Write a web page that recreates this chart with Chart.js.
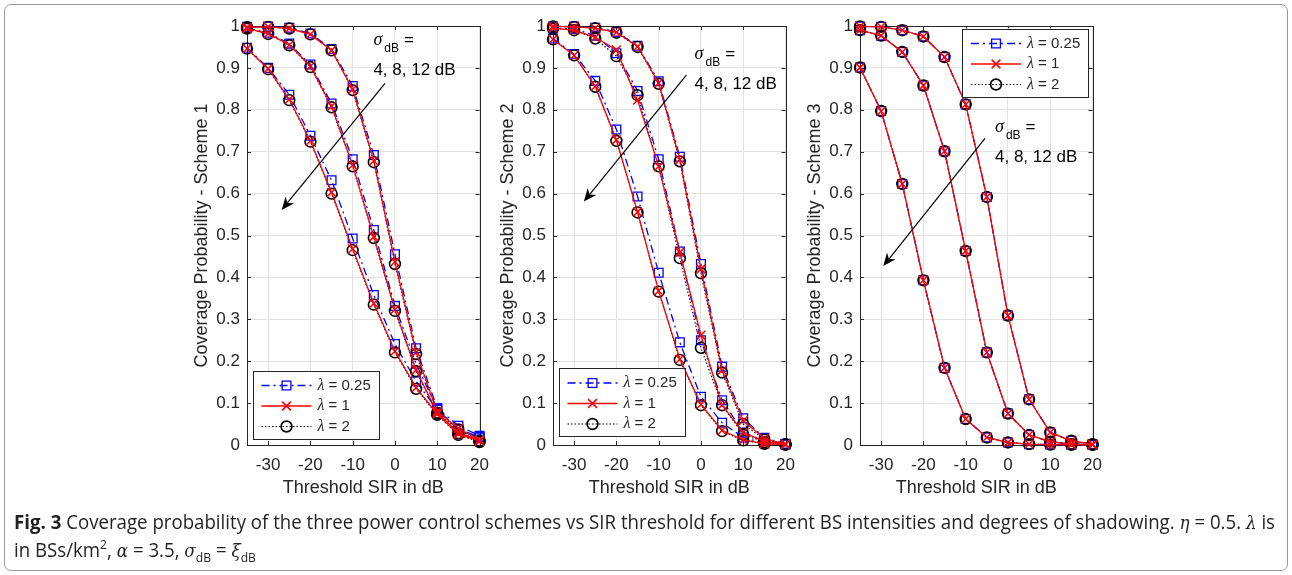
<!DOCTYPE html>
<html>
<head>
<meta charset="utf-8">
<script src="https://cdn.jsdelivr.net/npm/chart.js@4.4.1/dist/chart.umd.min.js"></script>
<style>
  html, body { margin: 0; padding: 0; background: #fff; }
  #fig { position: relative; width: 1292px; height: 575px; overflow: hidden; }
  #frame { position: absolute; left: 4px; top: 4px; width: 1282px; height: 565px;
           border: 1px solid #9a9a9a; border-radius: 7px; }
  canvas { position: absolute; top: 0; }
  #caption { position: absolute; left: 14px; top: 508px; font: 20px "Open Sans", sans-serif;
             line-height: 27px; color: #231f20; white-space: nowrap; transform-origin: 0 0; }
  #caption b { font-weight: 700; }
  #caption .m { font-family: "DejaVu Serif", serif; font-style: italic; font-size: 18px; }
  #caption sub, #caption sup { font-size: 13px; line-height: 0; }
</style>
</head>
<body>
<div id="fig">
  <div id="frame"></div>
  <canvas id="scheme1" width="323" height="510" style="left:177px"></canvas>
  <canvas id="scheme2" width="323" height="510" style="left:483px"></canvas>
  <canvas id="scheme3" width="323" height="510" style="left:790px"></canvas>
  <div id="caption"><span id="capLine"><b>Fig. 3</b> Coverage probability of the three power control schemes vs SIR threshold for different BS intensities and degrees of shadowing. <span class="m">η</span> = 0.5. <span class="m">λ</span> is</span><br>in BSs/km<sup>2</sup>, <span class="m">α</span> = 3.5, <span class="m">σ</span><sub>dB</sub> = <span class="m">ξ</span><sub>dB</sub></div>
</div>
<script>
// threshold SIR values (dB) shared by every curve
const sirDb = [-35, -30, -25, -20, -15, -10, -5, 0, 5, 10, 15, 20];
const lambdaLabels = ['0.25', '1', '2'];
const xTicks = [-30, -20, -10, 0, 10, 20];
const xTickLabels = ['-30', '-20', '-10', '0', '10', '20'];
const yTicks = [0, 0.1, 0.2, 0.3, 0.4, 0.5, 0.6, 0.7, 0.8, 0.9, 1];
const yTickLabels = ['0', '0.1', '0.2', '0.3', '0.4', '0.5', '0.6', '0.7', '0.8', '0.9', '1'];

// scheme 1
const s1Sig4Lam025 = [0.998, 0.999, 0.996, 0.982, 0.945, 0.857, 0.692, 0.455, 0.231, 0.088, 0.046, 0.022];
const s1Sig4Lam1   = [0.997, 0.998, 0.994, 0.980, 0.942, 0.849, 0.678, 0.437, 0.221, 0.080, 0.040, 0.012];
const s1Sig4Lam2   = [0.997, 0.998, 0.994, 0.980, 0.942, 0.847, 0.675, 0.432, 0.217, 0.077, 0.037, 0.009];
const s1Sig8Lam025 = [0.995, 0.984, 0.958, 0.908, 0.815, 0.682, 0.513, 0.332, 0.194, 0.086, 0.036, 0.016];
const s1Sig8Lam1   = [0.994, 0.982, 0.955, 0.904, 0.808, 0.668, 0.497, 0.323, 0.179, 0.077, 0.030, 0.011];
const s1Sig8Lam2   = [0.994, 0.981, 0.954, 0.902, 0.806, 0.665, 0.494, 0.320, 0.176, 0.075, 0.028, 0.010];
const s1Sig12Lam025 = [0.948, 0.900, 0.836, 0.738, 0.632, 0.493, 0.358, 0.241, 0.152, 0.084, 0.038, 0.019];
const s1Sig12Lam1   = [0.946, 0.898, 0.825, 0.726, 0.603, 0.468, 0.338, 0.224, 0.137, 0.074, 0.026, 0.009];
const s1Sig12Lam2   = [0.946, 0.897, 0.823, 0.724, 0.600, 0.465, 0.335, 0.221, 0.134, 0.072, 0.024, 0.007];

// scheme 2
const s2Sig4Lam025 = [0.999, 0.999, 0.996, 0.986, 0.953, 0.868, 0.688, 0.432, 0.187, 0.064, 0.017, 0.003];
const s2Sig4Lam1   = [0.999, 0.998, 0.995, 0.985, 0.951, 0.864, 0.681, 0.420, 0.178, 0.058, 0.015, 0.002];
const s2Sig4Lam2   = [0.999, 0.998, 0.995, 0.984, 0.950, 0.862, 0.677, 0.410, 0.173, 0.050, 0.013, 0.002];
const s2Sig8Lam025 = [0.995, 0.993, 0.977, 0.935, 0.845, 0.682, 0.462, 0.250, 0.107, 0.030, 0.009, 0.002];
const s2Sig8Lam1   = [0.995, 0.990, 0.973, 0.943, 0.823, 0.665, 0.460, 0.262, 0.095, 0.030, 0.008, 0.002];
const s2Sig8Lam2   = [0.994, 0.990, 0.970, 0.928, 0.835, 0.665, 0.446, 0.232, 0.095, 0.025, 0.007, 0.001];
const s2Sig12Lam025 = [0.970, 0.933, 0.869, 0.753, 0.593, 0.411, 0.245, 0.115, 0.053, 0.018, 0.004, 0.001];
const s2Sig12Lam1   = [0.968, 0.930, 0.856, 0.728, 0.556, 0.368, 0.205, 0.097, 0.035, 0.012, 0.003, 0.001];
const s2Sig12Lam2   = [0.968, 0.930, 0.855, 0.726, 0.555, 0.366, 0.203, 0.095, 0.033, 0.011, 0.003, 0.001];

// scheme 3 does not depend on λ, same curve for every intensity
const s3Sig4  = [0.999, 0.998, 0.990, 0.975, 0.926, 0.813, 0.592, 0.309, 0.109, 0.030, 0.010, 0.002];
const s3Sig8  = [0.990, 0.977, 0.938, 0.858, 0.701, 0.463, 0.221, 0.075, 0.024, 0.008, 0.002, 0.001];
const s3Sig12 = [0.901, 0.797, 0.623, 0.393, 0.184, 0.062, 0.018, 0.006, 0.002, 0.001, 0.0005, 0.0002];

const scheme1 = [[s1Sig4Lam025, s1Sig4Lam1, s1Sig4Lam2], [s1Sig8Lam025, s1Sig8Lam1, s1Sig8Lam2], [s1Sig12Lam025, s1Sig12Lam1, s1Sig12Lam2]];
const scheme2 = [[s2Sig4Lam025, s2Sig4Lam1, s2Sig4Lam2], [s2Sig8Lam025, s2Sig8Lam1, s2Sig8Lam2], [s2Sig12Lam025, s2Sig12Lam1, s2Sig12Lam2]];
const scheme3 = [[s3Sig4, s3Sig4, s3Sig4], [s3Sig8, s3Sig8, s3Sig8], [s3Sig12, s3Sig12, s3Sig12]];

const axisColor = '#262626';
const gridColor = '#e2e2e2';
const sans = '"Liberation Sans", Arial, sans-serif';
const serif = '"Liberation Serif", "Times New Roman", serif';

// one style per λ: blue dash-dot squares, red solid crosses, black dotted circles
const lamStyles = [
  { color: '#0000ff', dash: [8, 4, 2, 4], width: 1.3, marker: 'rect', radius: 6.2, bw: 1.3, order: 3 },
  { color: '#ff0000', dash: [], width: 1.3, marker: 'crossRot', radius: 6.2, bw: 1.5, order: 1 },
  { color: '#000000', dash: [1.5, 2], width: 1.1, marker: 'circle', radius: 5.4, bw: 1.6, order: 2 }
];

function buildDatasets(scheme) {
  const sets = [];
  scheme.forEach(perSigma => {
    perSigma.forEach((vals, li) => {
      const st = lamStyles[li];
      sets.push({
        data: sirDb.map((x, i) => ({ x: x, y: vals[i] })),
        borderColor: st.color,
        borderWidth: st.width,
        borderDash: st.dash,
        pointStyle: st.marker,
        pointRadius: st.radius,
        pointBorderWidth: st.bw,
        pointBorderColor: st.color,
        pointBackgroundColor: 'rgba(0,0,0,0)',
        tension: 0,
        clip: false,
        order: st.order
      });
    });
  });
  return sets;
}

function drawLegend(ctx, a, spec) {
  const w = 126, h = 68;
  const bx = spec.corner === 'sw' ? a.left + spec.dx : a.right - spec.dx - w;
  const by = spec.corner === 'sw' ? a.bottom - spec.dy - h : a.top + spec.dy;
  ctx.fillStyle = '#fff';
  ctx.fillRect(bx, by, w, h);
  ctx.strokeStyle = axisColor;
  ctx.lineWidth = 1;
  ctx.strokeRect(Math.round(bx) + 0.5, Math.round(by) + 0.5, w, h);
  lamStyles.forEach((st, i) => {
    const yy = by + 15 + i * 20.5;
    ctx.strokeStyle = st.color;
    ctx.lineWidth = st.width;
    ctx.setLineDash(st.dash);
    ctx.beginPath();
    ctx.moveTo(bx + 9, yy);
    ctx.lineTo(bx + 59, yy);
    ctx.stroke();
    ctx.setLineDash([]);
    ctx.fillStyle = 'rgba(0,0,0,0)';
    ctx.lineWidth = st.bw;
    Chart.helpers.drawPoint(ctx, { pointStyle: st.marker, radius: st.radius, borderWidth: st.bw, rotation: 0 }, bx + 34, yy);
    ctx.fillStyle = axisColor;
    ctx.textBaseline = 'middle';
    ctx.textAlign = 'left';
    ctx.font = 'italic 16px ' + serif;
    ctx.fillText('λ', bx + 65, yy);
    const lw = ctx.measureText('λ').width;
    ctx.font = '15px ' + sans;
    ctx.fillText(' = ' + lambdaLabels[i], bx + 65 + lw, yy);
  });
}

function drawNote(ctx, chart, note) {
  const { x, y } = chart.scales;
  const x0 = x.getPixelForValue(note.from[0]), y0 = y.getPixelForValue(note.from[1]);
  const x1 = x.getPixelForValue(note.to[0]), y1 = y.getPixelForValue(note.to[1]);
  const ang = Math.atan2(y1 - y0, x1 - x0);
  const len = 13, half = 5.5, back = 9;
  ctx.strokeStyle = '#000';
  ctx.fillStyle = '#000';
  ctx.lineWidth = 1.2;
  ctx.beginPath();
  ctx.moveTo(x0, y0);
  ctx.lineTo(x1 - Math.cos(ang) * back, y1 - Math.sin(ang) * back);
  ctx.stroke();
  // swept-back arrow head
  const c = Math.cos(ang), s = Math.sin(ang);
  ctx.beginPath();
  ctx.moveTo(x1, y1);
  ctx.lineTo(x1 - c * len - s * half, y1 - s * len + c * half);
  ctx.lineTo(x1 - c * back, y1 - s * back);
  ctx.lineTo(x1 - c * len + s * half, y1 - s * len - c * half);
  ctx.closePath();
  ctx.fill();

  // "σ_dB =" over "4, 8, 12 dB"
  const tx = x.getPixelForValue(note.text[0]), ty = y.getPixelForValue(note.text[1]);
  ctx.fillStyle = '#000';
  ctx.textAlign = 'left';
  ctx.textBaseline = 'alphabetic';
  ctx.font = 'italic 18px ' + serif;
  ctx.fillText('σ', tx, ty);
  let cx = tx + ctx.measureText('σ').width + 2;
  ctx.font = '12px ' + sans;
  ctx.fillText('dB', cx, ty + 7);
  cx += ctx.measureText('dB').width + 5;
  ctx.font = '17px ' + sans;
  ctx.fillText('=', cx, ty);
  ctx.fillText('4, 8, 12 dB', tx, ty + 30);
}

const matlabFrame = {
  id: 'matlabFrame',
  beforeDatasetsDraw(chart) {
    const { ctx, chartArea: a } = chart;
    const { x, y } = chart.scales;
    ctx.save();
    ctx.strokeStyle = axisColor;
    ctx.lineWidth = 1;
    ctx.beginPath();
    xTicks.forEach(v => {
      const px = Math.round(x.getPixelForValue(v)) + 0.5;
      ctx.moveTo(px, a.bottom); ctx.lineTo(px, a.bottom - 4);
      ctx.moveTo(px, a.top); ctx.lineTo(px, a.top + 4);
    });
    yTicks.forEach(v => {
      const py = Math.round(y.getPixelForValue(v)) + 0.5;
      ctx.moveTo(a.left, py); ctx.lineTo(a.left + 4, py);
      ctx.moveTo(a.right, py); ctx.lineTo(a.right - 4, py);
    });
    ctx.stroke();
    ctx.strokeRect(Math.round(a.left) + 0.5, Math.round(a.top) + 0.5,
                   Math.round(a.right) - Math.round(a.left), Math.round(a.bottom) - Math.round(a.top));
    ctx.restore();
  },
  afterDatasetsDraw(chart, args, opts) {
    const ctx = chart.ctx;
    ctx.save();
    drawNote(ctx, chart, opts.note);
    drawLegend(ctx, chart.chartArea, opts.legend);
    ctx.restore();
  }
};

function makeChart(id, scheme, yTitle, legendSpec, note) {
  return new Chart(document.getElementById(id), {
    type: 'line',
    data: { datasets: buildDatasets(scheme) },
    plugins: [matlabFrame],
    options: {
      responsive: false,
      animation: false,
      events: [],
      layout: { padding: { left: 0, right: 20.5, top: 26, bottom: 0 } },
      plugins: {
        legend: { display: false },
        tooltip: { enabled: false },
        matlabFrame: { legend: legendSpec, note: note }
      },
      scales: {
        x: {
          type: 'linear', min: -35, max: 20,
          afterBuildTicks: s => { s.ticks = xTicks.map(v => ({ value: v })); },
          afterFit: s => { s.height = 65; s.paddingLeft = 0; s.paddingRight = 0; },
          grid: { color: gridColor, lineWidth: 1, drawTicks: false },
          border: { display: false },
          ticks: { padding: 10, color: axisColor, font: { family: sans, size: 17 },
                   maxRotation: 0, minRotation: 0, autoSkip: false,
                   callback: (v, i) => xTickLabels[i] },
          title: { display: true, text: 'Threshold SIR in dB', color: axisColor,
                   font: { family: sans, size: 18 }, padding: { top: 0, bottom: 10.7 } }
        },
        y: {
          type: 'linear', min: 0, max: 1,
          afterBuildTicks: s => { s.ticks = yTicks.map(v => ({ value: v })); },
          afterFit: s => { s.width = 70; s.paddingTop = 0; s.paddingBottom = 0; },
          grid: { color: gridColor, lineWidth: 1, drawTicks: false },
          border: { display: false },
          ticks: { padding: 7, color: axisColor, font: { family: sans, size: 17 },
                   autoSkip: false, callback: (v, i) => yTickLabels[i] },
          title: { display: true, text: yTitle, color: axisColor,
                   font: { family: sans, size: 18 }, padding: { top: 13.9, bottom: 0 } }
        }
      }
    }
  });
}

makeChart('scheme1', scheme1, 'Coverage Probability - Scheme 1',
  { corner: 'sw', dx: 5.5, dy: 6.5 },
  { from: [-2.35, 0.863], to: [-26.8, 0.561], text: [-5.1, 0.954] });
makeChart('scheme2', scheme2, 'Coverage Probability - Scheme 2',
  { corner: 'sw', dx: 5.5, dy: 9 },
  { from: [-3.46, 0.883], to: [-27.7, 0.581], text: [-1.5, 0.922] });
makeChart('scheme3', scheme3, 'Coverage Probability - Scheme 3',
  { corner: 'ne', dx: 4.5, dy: 2.5 },
  { from: [-5.43, 0.732], to: [-29.5, 0.427], text: [-3.06, 0.7475] });

// squeeze the caption so its first line spans the figure width
const cap = document.getElementById('caption');
const lineW = document.getElementById('capLine').getBoundingClientRect().width;
cap.style.transform = 'scaleX(' + (1261 / lineW) + ')';
</script>
</body>
</html>
